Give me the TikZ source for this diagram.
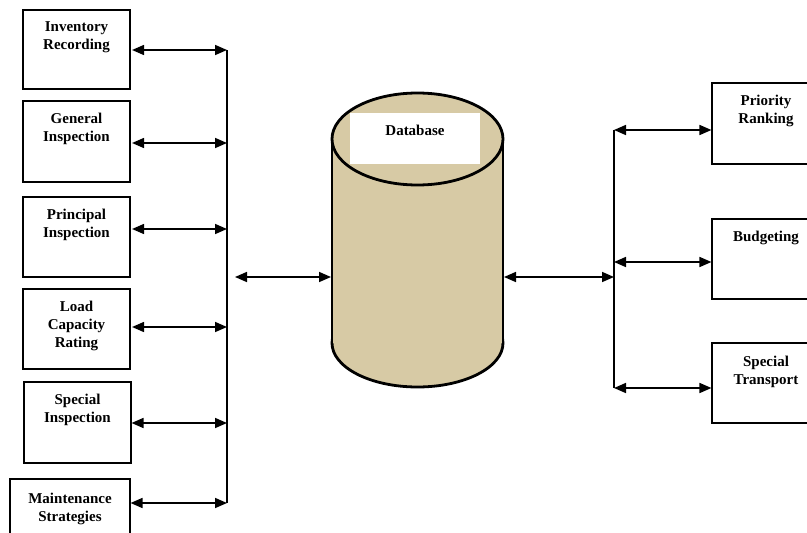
\documentclass[tikz,border=0pt]{standalone}
\usepackage{fontspec}
\setmainfont{Liberation Serif}
\usetikzlibrary{arrows.meta}
\definecolor{dbtan}{RGB}{215,202,165}
\begin{document}
\begin{tikzpicture}[x=1pt,y=-1pt,
  box/.style={draw,line width=1.1pt,minimum width=107pt,minimum height=80pt,inner sep=0},
  lbl/.style={anchor=north,inner sep=0,align=center,font=\bfseries\fontsize{15}{18}\selectfont},
  arr/.style={{Triangle[length=12pt,width=10pt]}-{Triangle[length=12pt,width=10pt]},line width=1.6pt},
  bus/.style={line width=1.5pt},
  cyl/.style={line width=2.8pt}]
\useasboundingbox (0,0) rectangle (807,533);
\clip (0,0) rectangle (807,533);
% left boxes
\node[box,minimum height=79pt] (inv) at (76.5,49.5) {};
\node[box,minimum height=81pt] (gen) at (76.5,141.5) {};
\node[box] (pri) at (76.5,237) {};
\node[box] (load) at (76.5,329) {};
\node[box,minimum height=81pt] (spec) at (77.5,422.5) {};
\node[box,minimum width=120pt] (maint) at (70,519) {};
\node[lbl] at ([yshift=-12pt]inv.north) {Inventory\\Recording};
\node[lbl] at ([yshift=-12pt]gen.north) {General\\Inspection};
\node[lbl] at ([yshift=-12pt]pri.north) {Principal\\Inspection};
\node[lbl] at ([yshift=-12pt]load.north) {Load\\Capacity\\Rating};
\node[lbl] at ([yshift=-12pt]spec.north) {Special\\Inspection};
\node[lbl] at ([yshift=-14pt]maint.north) {Maintenance\\Strategies};
% right boxes
\node[box,minimum width=108pt,minimum height=81pt] (prio) at (766,123.5) {};
\node[box,minimum width=108pt] (budg) at (766,259) {};
\node[box,minimum width=108pt] (strans) at (766,383) {};
\node[lbl] at ([yshift=-12pt]prio.north) {Priority\\Ranking};
\node[lbl] at ([yshift=-12pt]budg.north) {Budgeting};
\node[lbl] at ([yshift=-13pt]strans.north) {Special\\Transport};
% database cylinder
\filldraw[cyl,fill=dbtan] (417.5,343) ellipse[x radius=85.5,y radius=44];
\fill[dbtan] (332,139) rectangle (503,343);
\draw[cyl] (332,139) -- (332,343) (503,139) -- (503,343);
\filldraw[cyl,fill=dbtan] (417.5,139) ellipse[x radius=85.5,y radius=46];
\node[fill=white,minimum width=130pt,minimum height=51pt,inner sep=0] (dbw) at (415,138.5) {};
\node[lbl] at ([yshift=-12pt]dbw.north) {Database};
\coordinate (cylL) at (331,277);
\coordinate (cylR) at (504,277);
% left bus
\coordinate (bl1) at (227,50);
\coordinate (bl2) at (227,143);
\coordinate (bl3) at (227,229);
\coordinate (bl4) at (227,327);
\coordinate (bl5) at (227,423);
\coordinate (bl6) at (227,503);
\coordinate (blc) at (227,277);
\draw[bus] (bl1) -- (bl6);
\draw[arr,shorten <=1.5pt] (inv.east |- bl1) -- (bl1);
\draw[arr,shorten <=1.5pt] (gen.east |- bl2) -- (bl2);
\draw[arr,shorten <=1.5pt] (pri.east |- bl3) -- (bl3);
\draw[arr,shorten <=1.5pt] (load.east |- bl4) -- (bl4);
\draw[arr] (spec.east |- bl5) -- (bl5);
\draw[arr] (maint.east |- bl6) -- (bl6);
\draw[arr,shorten <=8pt] (blc) -- (cylL);
% right bus
\coordinate (br1) at (614,130);
\coordinate (br2) at (614,262);
\coordinate (br3) at (614,388);
\coordinate (brc) at (614,277);
\draw[bus] (br1) -- (br3);
\draw[arr] (br1) -- (prio.west |- br1);
\draw[arr] (br2) -- (budg.west |- br2);
\draw[arr] (br3) -- (strans.west |- br3);
\draw[arr] (cylR) -- (brc);
\end{tikzpicture}
\end{document}
